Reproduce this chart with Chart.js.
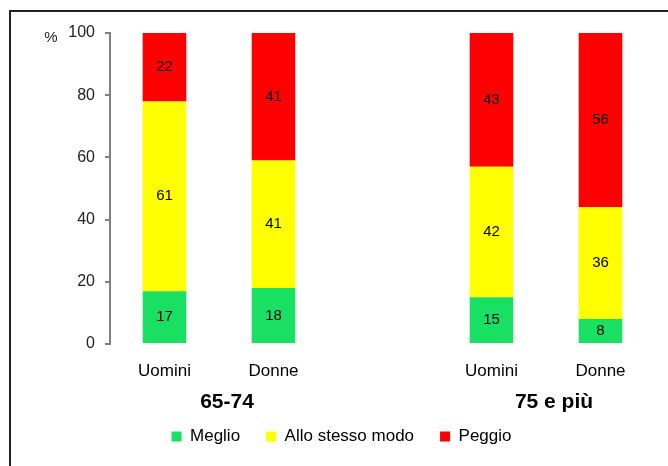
<!DOCTYPE html>
<html lang="it">
<head>
  <meta charset="UTF-8">
  <title>Salute percepita</title>
  <script src="https://cdn.jsdelivr.net/npm/chart.js"></script>
  <style>
    body { margin: 0; background: #fff; font-family: "Liberation Sans", Arial, sans-serif; }
    #wrap { position: relative; width: 668px; height: 466px; overflow: hidden; }
    #frame { position: absolute; left: 9px; top: 10px; width: 700px; height: 500px;
             border-top: 2px solid #222; border-left: 2px solid #222; pointer-events: none; }
  </style>
</head>
<body>
<div id="wrap">
  <canvas id="chart" width="668" height="466"></canvas>
  <div id="frame"></div>
</div>
<script>
  const categories = ['Uomini', 'Donne', '', 'Uomini', 'Donne'];
  const groups = [
    { label: '65-74', from: 0, to: 1 },
    { label: '75 e più', from: 3, to: 4 }
  ];
  const meglio = [17, 18, null, 15, 8];
  const stesso = [61, 41, null, 42, 36];
  const peggio = [22, 41, null, 43, 56];
  const yTicks = [0, 20, 40, 60, 80, 100];

  const font = '"Liberation Sans", Arial, sans-serif';

  // numbers in the middle of each segment
  const valueLabels = {
    id: 'valueLabels',
    afterDatasetsDraw(chart) {
      const ctx = chart.ctx;
      ctx.save();
      ctx.font = '15px ' + font;
      ctx.fillStyle = '#000';
      ctx.textAlign = 'center';
      ctx.textBaseline = 'middle';
      chart.data.datasets.forEach((ds, i) => {
        chart.getDatasetMeta(i).data.forEach((bar, j) => {
          const v = ds.data[j];
          if (v == null) return;
          const p = bar.getProps(['x', 'y', 'base'], true);
          ctx.fillText(String(v), p.x, (p.y + p.base) / 2);
        });
      });
      ctx.restore();
    }
  };

  // "%" unit and the age group names under the categories
  const extraText = {
    id: 'extraText',
    afterDraw(chart) {
      const ctx = chart.ctx;
      const x = chart.scales.x, y = chart.scales.y;
      ctx.save();
      ctx.fillStyle = '#222';
      ctx.textBaseline = 'middle';
      ctx.textAlign = 'center';
      ctx.font = '15px ' + font;
      ctx.fillText('%', 51, y.getPixelForValue(100) + 5);
      ctx.fillStyle = '#000';
      ctx.font = 'bold 21px ' + font;
      groups.forEach(g => {
        const cx = (x.getPixelForValue(g.from) + x.getPixelForValue(g.to)) / 2 + 8;
        ctx.fillText(g.label, cx, 402);
      });
      ctx.restore();
    }
  };

  new Chart(document.getElementById('chart'), {
    type: 'bar',
    data: {
      labels: categories,
      datasets: [
        { label: 'Meglio', data: meglio, backgroundColor: '#19E062' },
        { label: 'Allo stesso modo', data: stesso, backgroundColor: '#FFFF00' },
        { label: 'Peggio', data: peggio, backgroundColor: '#FF0000' }
      ]
    },
    options: {
      responsive: false,
      animation: false,
      barPercentage: 0.4,
      categoryPercentage: 1,
      layout: { padding: { left: 28, right: 13, top: 33, bottom: 11 } },
      plugins: {
        tooltip: { enabled: false },
        legend: {
          position: 'bottom',
          labels: {
            boxWidth: 10, boxHeight: 10, padding: 26,
            color: '#000',
            font: { family: font, size: 17 }
          }
        }
      },
      scales: {
        x: {
          stacked: true,
          grid: { display: false },
          border: { display: false },
          ticks: { color: '#000', padding: 9, font: { family: font, size: 17 } },
          afterFit(s) { s.height = 58; }
        },
        y: {
          stacked: true,
          min: 0, max: 100,
          afterBuildTicks(s) { s.ticks = yTicks.map(v => ({ value: v })); },
          grid: { drawOnChartArea: false, tickLength: 5, color: '#808080', lineWidth: 2 },
          border: { color: '#808080', width: 2 },
          ticks: { color: '#222', padding: 10, font: { family: font, size: 16 } },
          afterFit(s) { s.width = 82; }
        }
      }
    },
    plugins: [valueLabels, extraText]
  });
</script>
</body>
</html>
